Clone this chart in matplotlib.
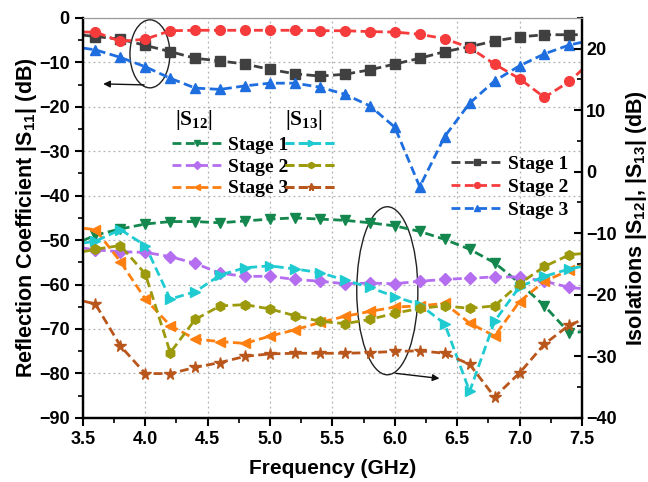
import matplotlib
matplotlib.use("Agg")
import matplotlib.pyplot as plt
from matplotlib.patches import Ellipse
from matplotlib.ticker import MultipleLocator

plt.rcParams['font.family'] = ['Liberation Sans', 'DejaVu Sans']
plt.rcParams['font.weight'] = 'bold'
plt.rcParams['mathtext.fontset'] = 'custom'
plt.rcParams['mathtext.rm'] = 'Liberation Sans:bold'
plt.rcParams['mathtext.it'] = 'Liberation Sans:bold'
plt.rcParams['mathtext.bf'] = 'Liberation Sans:bold'
plt.rcParams['mathtext.sf'] = 'Liberation Serif:bold'

# ---- data (frequency in GHz; first/last points lie just outside the plotted range) ----
freq = [3.4, 3.6, 3.8, 4.0, 4.2, 4.4, 4.6, 4.8, 5.0, 5.2, 5.4,
        5.6, 5.8, 6.0, 6.2, 6.4, 6.6, 6.8, 7.0, 7.2, 7.4, 7.6]

# |S11| (left axis)
s11_stage1 = [-3.6, -4.2, -4.8, -6.2, -7.6, -9.1, -9.7, -10.4, -11.6, -12.6, -13.1,
              -12.7, -11.7, -10.4, -9.1, -7.6, -6.5, -5.2, -4.3, -3.8, -3.8, -3.8]
s11_stage2 = [-3.2, -3.2, -5.3, -4.8, -2.9, -2.8, -2.8, -2.8, -2.8, -2.8, -2.9,
              -2.9, -3.1, -3.2, -3.7, -4.7, -6.7, -10.4, -13.7, -17.9, -14.3, -9.1]
s11_stage3 = [-6.4, -7.2, -8.9, -11.0, -13.6, -15.8, -16.1, -15.3, -14.7, -14.7, -15.6,
              -17.2, -19.8, -24.6, -38.0, -26.7, -19.2, -14.2, -10.8, -8.1, -6.1, -4.9]

# |S12| (right axis)
s12_stage1 = [-12.1, -10.3, -9.3, -8.5, -8.1, -8.1, -8.3, -8.0, -7.7, -7.5, -7.7,
              -7.9, -8.3, -8.8, -9.7, -11.0, -12.6, -14.8, -18.1, -21.8, -26.2, -25.8]
s12_stage2 = [-12.1, -12.7, -13.0, -13.1, -13.8, -14.9, -16.5, -17.0, -17.0, -17.5, -17.8,
              -18.2, -18.1, -18.2, -17.8, -17.5, -17.3, -17.1, -17.1, -17.8, -18.8, -19.2]
s12_stage3 = [-9.0, -9.4, -14.6, -20.7, -25.0, -27.2, -27.6, -27.9, -26.7, -25.7, -24.5,
              -23.5, -22.7, -22.0, -21.8, -21.4, -24.6, -26.7, -21.1, -17.8, -16.0, -14.4]

# |S13| (right axis)
s13_stage1 = [-11.9, -11.3, -9.4, -12.0, -20.7, -19.5, -16.8, -15.6, -15.3, -15.8, -16.4,
              -17.6, -18.8, -20.3, -21.6, -24.7, -35.7, -24.3, -18.7, -17.0, -15.8, -15.0]
s13_stage2 = [-13.4, -12.6, -12.0, -16.6, -29.4, -24.0, -21.8, -21.6, -22.3, -23.4, -24.3,
              -24.7, -24.0, -23.0, -22.2, -21.8, -22.2, -21.8, -18.2, -15.4, -13.5, -13.1]
s13_stage3 = [-20.5, -21.5, -28.3, -32.8, -32.8, -31.8, -31.0, -30.0, -29.6, -29.5, -29.5,
              -29.5, -29.4, -29.2, -29.1, -29.5, -31.3, -36.6, -32.7, -28.0, -24.9, -23.3]

stage_labels = ["Stage 1", "Stage 2", "Stage 3"]
xticks = [3.5, 4.0, 4.5, 5.0, 5.5, 6.0, 6.5, 7.0, 7.5]

fig = plt.figure(figsize=(6.48, 4.82), dpi=100)
ax = fig.add_axes([0.128, 0.133, 0.770, 0.830])
ax2 = ax.twinx()

dash = (0, (3.2, 1.6))
lw = 2.0
ms = 7

# S11 on left axis
h11 = []
for y, c, m in [(s11_stage1, '#404040', 's'), (s11_stage2, '#f53b3b', 'o'), (s11_stage3, '#1f6ee0', '^')]:
    l, = ax.plot(freq, y, color=c, marker=m, ms=ms, lw=lw, linestyle=dash)
    h11.append(l)

# S12 / S13 on right axis
h12 = []
for y, c, m in [(s12_stage1, '#13874d', 'v'), (s12_stage2, '#b56ef0', 'D'), (s12_stage3, '#ff7f10', '<')]:
    l, = ax2.plot(freq, y, color=c, marker=m, ms=ms if m != 'D' else 6.5, lw=lw, linestyle=dash)
    h12.append(l)
h13 = []
for y, c, m in [(s13_stage1, '#1fcbd1', '>'), (s13_stage2, '#9c9a0c', 'h'), (s13_stage3, '#b8561c', '*')]:
    l, = ax2.plot(freq, y, color=c, marker=m, ms=ms if m != '*' else 8.5, lw=lw, linestyle=dash)
    h13.append(l)

ax.set_xlim(3.5, 7.5)
ax.set_ylim(-90, 0)
ax2.set_ylim(-40, 25)
ax.set_xticks(xticks)
ax.set_xticklabels([f"{v:.1f}" for v in xticks])
ax.xaxis.set_minor_locator(MultipleLocator(0.25))
ax.yaxis.set_major_locator(MultipleLocator(10))
ax.yaxis.set_minor_locator(MultipleLocator(5))
ax2.set_yticks([-40, -30, -20, -10, 0, 10, 20])
ax2.yaxis.set_minor_locator(MultipleLocator(5))

ax.grid(True, which='major', linestyle=(0, (1.5, 2.5)), color='#b0b0b0', lw=0.9)
ax.set_axisbelow(True)

ax.tick_params(axis='both', which='major', direction='out', length=6, width=1.5, labelsize=13)
ax.tick_params(axis='both', which='minor', direction='out', length=3.5, width=1.2)
ax.tick_params(axis='x', which='both', top=False)
ax2.tick_params(axis='y', which='major', direction='in', length=6, width=1.5, labelsize=13, pad=3)
ax2.tick_params(axis='y', which='minor', direction='in', length=3.5, width=1.2)
for a in (ax, ax2):
    for s in a.spines.values():
        s.set_linewidth(1.6)
    a.spines['top'].set_color('#999999')
    a.spines['top'].set_linewidth(0.8)
for t in ax.get_xticklabels() + ax.get_yticklabels() + ax2.get_yticklabels():
    t.set_fontweight('bold')

ax.set_xlabel("Frequency (GHz)", fontsize=15, fontweight='bold', labelpad=8)
ax.set_ylabel("Reflection Coefficient |S$_{11}$| (dB)", fontsize=15.5, fontweight='bold', labelpad=0)
ax2.set_ylabel("Isolations |S$_{12}$|, |S$_{13}$| (dB)", fontsize=15.5, fontweight='bold', labelpad=5)

# legends
lfont = {'family': 'Liberation Serif', 'weight': 'bold', 'size': 14}
leg1 = ax2.legend(h11, stage_labels, loc='upper left', bbox_to_anchor=(0.723, 0.676),
                  frameon=False, prop=lfont, handlelength=2.6, handletextpad=0.3,
                  labelspacing=0.28, markerscale=0.6, borderaxespad=0)
ax2.add_artist(leg1)
leg2 = ax2.legend(h12, stage_labels, loc='upper left', bbox_to_anchor=(0.163, 0.724),
                  frameon=False, prop=lfont, handlelength=2.6, handletextpad=0.3,
                  labelspacing=0.22, markerscale=0.6, borderaxespad=0)
ax2.add_artist(leg2)
leg3 = ax2.legend(h13, ["", "", ""], loc='upper left', bbox_to_anchor=(0.39, 0.724),
                  frameon=False, prop=lfont, handlelength=2.6, handletextpad=0.0,
                  labelspacing=0.22, markerscale=0.6, borderaxespad=0)
ax2.add_artist(leg3)
ax.text(0.222, 0.745, r"$\mathsf{|S_{12}|}$", transform=ax.transAxes, fontsize=15.5,
        ha='center', va='center')
ax.text(0.442, 0.745, r"$\mathsf{|S_{13}|}$", transform=ax.transAxes, fontsize=15.5,
        ha='center', va='center')

# annotations: ellipses and arrows
ax.add_patch(Ellipse((4.037, -8.1), 0.32, 15.3, fill=False, ec='#222222', lw=1.0))
ax.annotate("", xy=(3.64, -14.85), xytext=(4.013, -15.1),
            arrowprops=dict(arrowstyle='-|>', color='#111111', lw=1.0, mutation_scale=10))
ax.add_patch(Ellipse((5.94, -61.4), 0.49, 37.8, fill=False, ec='#222222', lw=1.0))
ax.annotate("", xy=(6.38, -81.2), xytext=(5.985, -79.9),
            arrowprops=dict(arrowstyle='-|>', color='#111111', lw=1.0, mutation_scale=10))

fig.savefig("out.png", dpi=100)
